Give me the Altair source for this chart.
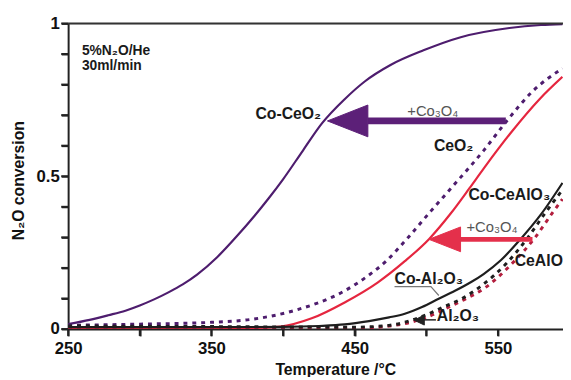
import altair as alt
import pandas as pd

# ---------------- data ----------------
T_co_ceo2 = [250, 265, 278, 290, 300, 310, 320, 330, 340, 354, 368, 380, 390, 400, 414, 427, 443, 457, 475, 498, 524, 558, 580, 595]
v_co_ceo2 = [0.016, 0.03, 0.045, 0.06, 0.077, 0.097, 0.12, 0.146, 0.178, 0.235, 0.305, 0.37, 0.428, 0.49, 0.585, 0.672, 0.752, 0.81, 0.864, 0.912, 0.955, 0.985, 0.995, 0.998]

T_ceo2 = [250, 300, 350, 375, 409, 443, 458, 471, 487, 503, 519, 540, 556, 574, 595]
v_ceo2 = [0.012, 0.016, 0.022, 0.03, 0.062, 0.125, 0.17, 0.218, 0.298, 0.385, 0.47, 0.584, 0.68, 0.777, 0.853]

T_co_cealo3 = [250, 300, 350, 380, 398, 420, 443, 466, 485, 502, 517, 530, 540, 560, 579, 595]
v_co_cealo3 = [0.004, 0.004, 0.004, 0.004, 0.008, 0.035, 0.087, 0.152, 0.222, 0.295, 0.378, 0.46, 0.525, 0.648, 0.752, 0.825]

T_co_al2o3 = [250, 300, 350, 400, 425, 443, 460, 474, 485, 497, 509, 520, 531, 540, 552, 565, 580, 595]
v_co_al2o3 = [0.006, 0.006, 0.006, 0.007, 0.01, 0.015, 0.026, 0.038, 0.05, 0.072, 0.10, 0.125, 0.153, 0.18, 0.225, 0.29, 0.375, 0.478]

T_al2o3 = [250, 350, 450, 474, 497, 511, 525, 538, 556, 571, 583, 595]
v_al2o3 = [0.01, 0.008, 0.006, 0.012, 0.041, 0.07, 0.10, 0.14, 0.215, 0.30, 0.38, 0.455]

T_cealo3 = [250, 350, 455, 478, 500, 514, 528, 541, 560, 576, 588, 595]
v_cealo3 = [0.004, 0.004, 0.004, 0.012, 0.038, 0.068, 0.10, 0.135, 0.215, 0.30, 0.38, 0.425]

series_names = ["Co-CeO2", "CeO2", "Co-CeAlO3", "CeAlO3", "Co-Al2O3", "Al2O3"]
series_T = [T_co_ceo2, T_ceo2, T_co_cealo3, T_cealo3, T_co_al2o3, T_al2o3]
series_v = [v_co_ceo2, v_ceo2, v_co_cealo3, v_cealo3, v_co_al2o3, v_al2o3]
series_colors = ["#4E1D6E", "#4E1D6E", "#E5263F", "#B31E3E", "#1E1E1E", "#1E1E1E"]
series_dashed = [False, True, False, True, False, True]

x_ticks = [250, 300, 350, 400, 450, 500, 550]
x_labels = [250, 350, 450, 550]
y_ticks = [0, 0.1, 0.2, 0.3, 0.4, 0.5, 0.6, 0.7, 0.8, 0.9, 1.0]

# annotations (data coordinates)
bold_labels = ["Co-CeO₂", "CeO₂", "Co-CeAlO₃", "CeAlO₃", "Co-Al₂O₃", "Al₂O₃"]
bold_T = [380.7, 505.3, 529.4, 561.7, 477.8, 507.3]
bold_v = [0.703, 0.60, 0.439, 0.2226, 0.1645, 0.042]

gray_labels = ["+Co₃O₄", "+Co₃O₄"]
gray_T = [486.7, 528.0]
gray_v = [0.713, 0.335]

cond_labels = ["5%N₂O/He", "30ml/min"]
cond_T = [259.6, 259.6]
cond_v = [0.908, 0.862]

# arrows: shaft (start, end, level), head polygon vertices
purple_shaft = (459.0, 555.5, 0.681)
purple_head_T = [431.0, 459.2, 459.2, 431.0]
purple_head_v = [0.681, 0.733, 0.629, 0.681]

red_shaft = (523.0, 574.1, 0.2935)
red_head_T = [501.8, 523.9, 523.9, 501.8]
red_head_v = [0.2935, 0.334, 0.253, 0.2935]

black_shaft = (497.0, 506.7, 0.030)
black_head_T = [491.5, 498.6, 498.6, 491.5]
black_head_v = [0.029, 0.046, 0.013, 0.029]

leader_T = [477.8, 503.2, 508.7]
leader_v = [0.1387, 0.1387, 0.1097]

# ---------------- chart ----------------
FONT = "Liberation Sans"
X_DOMAIN = [250, 595.4]
W, H = 502, 310
xs = alt.Scale(domain=X_DOMAIN, nice=False, zero=False)
ys = alt.Scale(domain=[0, 1], nice=False)

X_AXIS = alt.Axis(values=x_ticks,
                  labelExpr="indexof([%s], datum.value) >= 0 ? datum.label : ''" % ",".join(str(v) for v in x_labels),
                  format="d",
                  title="Temperature /°C", titleFont=FONT, titleFontSize=16, titleFontWeight="bold",
                  titleColor="#111111", titleX=271, titleY=46, titleBaseline="alphabetic",
                  labelFont=FONT, labelFontSize=17, labelFontWeight="bold", labelColor="#111111",
                  labelPadding=5, ticks=True, tickSize=7, tickWidth=2, tickColor="#222222", tickOpacity=1,
                  domainColor="#222222", domainWidth=2, grid=False, labelFlush=False,
                  labelOverlap=False)
Y_AXIS = alt.Axis(values=y_ticks,
                  labelExpr="abs(datum.value) < 0.001 ? '0' : abs(datum.value - 0.5) < 0.001 ? '0.5' : abs(datum.value - 1) < 0.001 ? '1' : ''",
                  title="N₂O conversion", titleFont=FONT, titleFontSize=16, titleFontWeight="bold",
                  titleColor="#111111", titleX=-42, titleY=159, titleAngle=-90,
                  labelFont=FONT, labelFontSize=17, labelFontWeight="bold", labelColor="#111111",
                  labelPadding=2, ticks=True, tickSize=7, tickWidth=2, tickColor="#222222", tickOpacity=1,
                  domainColor="#222222", domainWidth=2, grid=False, labelFlush=False,
                  labelOverlap=False)


def X(field):
    return alt.X(field, scale=xs, axis=X_AXIS)


def Y(field):
    return alt.Y(field, scale=ys, axis=Y_AXIS)


layers = []
for name, Ts, vs, col, dashed in zip(series_names, series_T, series_v, series_colors, series_dashed):
    df = pd.DataFrame({"T": Ts, "v": vs, "o": list(range(len(Ts)))})
    if dashed:
        mk = alt.Chart(df).mark_line(color=col, strokeWidth=3, strokeDash=[4, 5], interpolate="monotone", clip=True)
    else:
        mk = alt.Chart(df).mark_line(color=col, strokeWidth=2.2, interpolate="monotone", clip=True)
    layers.append(mk.encode(x=X("T:Q"), y=Y("v:Q"), order="o:Q"))

# frame top line
top_df = pd.DataFrame({"v": [1.0]})
layers.append(alt.Chart(top_df).mark_rule(color="#333333", strokeWidth=2).encode(y=Y("v:Q")))

# explicit tick marks (positions through the scales)
xt_df = pd.DataFrame({"T": x_ticks})
layers.append(alt.Chart(xt_df).mark_rule(color="#222222", strokeWidth=2).encode(
    x=X("T:Q"), y=alt.value(H), y2=alt.value(H + 7)))
yt_df = pd.DataFrame({"v": y_ticks})
layers.append(alt.Chart(yt_df).mark_rule(color="#222222", strokeWidth=2).encode(
    y=Y("v:Q"), x=alt.value(-7), x2=alt.value(0)))


def shaft(s, color, width):
    df = pd.DataFrame({"T1": [s[0]], "T2": [s[1]], "v": [s[2]]})
    return alt.Chart(df).mark_rule(color=color, strokeWidth=width).encode(
        x=X("T1:Q"), x2="T2:Q", y=Y("v:Q")
    )


def head(Ts, vs, color):
    df = pd.DataFrame({"T": Ts, "v": vs, "o": list(range(len(Ts)))})
    return alt.Chart(df).mark_line(color=color, fill=color, strokeWidth=1).encode(
        x=X("T:Q"), y=Y("v:Q"), order="o:Q"
    )


layers.append(shaft(purple_shaft, "#5C2078", 7))
layers.append(head(purple_head_T, purple_head_v, "#5C2078"))
layers.append(shaft(red_shaft, "#E4304B", 5))
layers.append(head(red_head_T, red_head_v, "#E4304B"))
layers.append(shaft(black_shaft, "#222222", 1.5))
layers.append(head(black_head_T, black_head_v, "#222222"))

leader_df = pd.DataFrame({"T": leader_T, "v": leader_v, "o": [0, 1, 2]})
layers.append(
    alt.Chart(leader_df).mark_line(color="#777777", strokeWidth=1.2).encode(
        x=X("T:Q"), y=Y("v:Q"), order="o:Q"
    )
)


def texts(labels, Ts, vs, size, weight, color):
    df = pd.DataFrame({"T": Ts, "v": vs, "t": labels})
    return alt.Chart(df).mark_text(align="left", baseline="middle", font=FONT, fontSize=size,
                                   fontWeight=weight, color=color).encode(
        x=X("T:Q"), y=Y("v:Q"), text="t:N"
    )


layers.append(texts(bold_labels, bold_T, bold_v, 16, "bold", "#1A1A1A"))
layers.append(texts(gray_labels, gray_T, gray_v, 15, "normal", "#555555"))
layers.append(texts(cond_labels, cond_T, cond_v, 14, "bold", "#1A1A1A"))

chart = alt.layer(*layers).properties(
    width=W, height=H,
    autosize=alt.AutoSizeParams(type="none"),
    padding={"left": 61, "top": 13, "right": 0, "bottom": 46},
).configure_view(stroke=None).configure(background="white")

chart.save("out.html", embed_options={"renderer": "svg", "actions": False})
